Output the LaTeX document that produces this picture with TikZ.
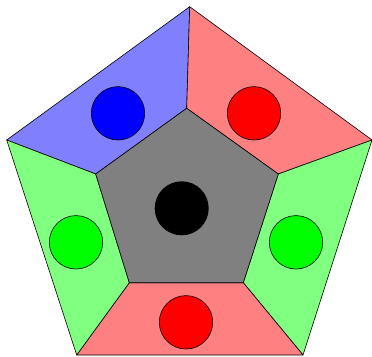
\documentclass[tikz,border=0pt]{standalone}
\begin{document}
\begin{tikzpicture}[x=1pt,y=-1pt,line join=round,
  seg/.style={draw=black,line width=0.6pt},
  dot/.style={draw=black,line width=0.6pt}]
\useasboundingbox (0,0) rectangle (372,356);
% outer pentagon
\coordinate (O1) at (189.7,6.7);
\coordinate (O2) at (372,140);
\coordinate (O3) at (303,355);
\coordinate (O4) at (76.7,355);
\coordinate (O5) at (6.7,140);
% inner pentagon
\coordinate (I1) at (186.7,108.3);
\coordinate (I2) at (278.3,174);
\coordinate (I3) at (243.3,282.7);
\coordinate (I4) at (129.3,282.7);
\coordinate (I5) at (95.7,174);
\fill[seg,fill=blue!50] (O5) -- (O1) -- (I1) -- (I5) -- cycle;
\fill[seg,fill=red!50] (O1) -- (O2) -- (I2) -- (I1) -- cycle;
\fill[seg,fill=green!50] (O2) -- (O3) -- (I3) -- (I2) -- cycle;
\fill[seg,fill=red!50] (O3) -- (O4) -- (I4) -- (I3) -- cycle;
\fill[seg,fill=green!50] (O4) -- (O5) -- (I5) -- (I4) -- cycle;
\fill[seg,fill=gray] (I1) -- (I2) -- (I3) -- (I4) -- (I5) -- cycle;
\fill[black] (181.7,208.3) circle (27);
\filldraw[dot,fill=blue] (118,113.3) circle (26.7);
\filldraw[dot,fill=red] (254,113.3) circle (26.7);
\filldraw[dot,fill=green] (76,242.3) circle (26.7);
\filldraw[dot,fill=green] (296,242.3) circle (26.7);
\filldraw[dot,fill=red] (186,322.3) circle (26.7);
\end{tikzpicture}
\end{document}
